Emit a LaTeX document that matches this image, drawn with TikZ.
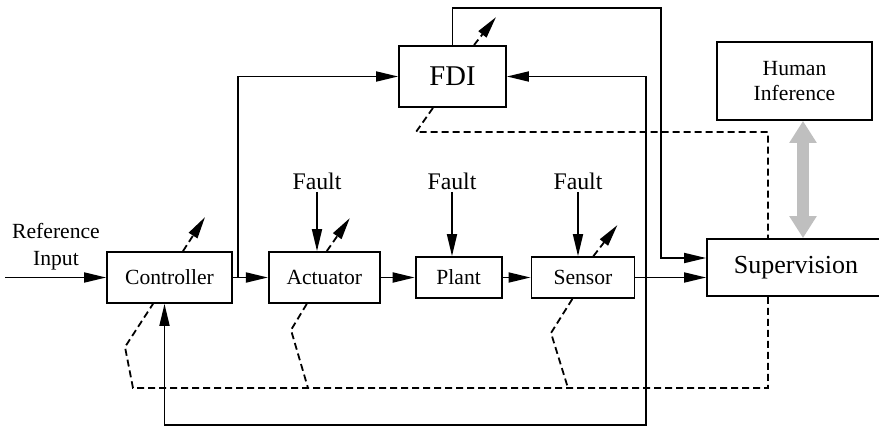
\documentclass[tikz,border=0pt]{standalone}
\usepackage{fontspec}
\setmainfont{Liberation Serif}
\usetikzlibrary{positioning, arrows.meta}

\begin{document}
\begin{tikzpicture}[x=0.5pt, y=-0.5pt, font=\fontsize{10.8}{13}\selectfont]
        \tikzstyle{blk} = [rectangle, draw, line width=0.9pt, fill=white, inner sep=0pt, minimum height=25.5pt]
        \tikzstyle{arrow} = [line width=0.9pt, -{Triangle[length=11pt, width=5pt]}]
        \tikzstyle{dasharrow} = [arrow, dash pattern=on 3.5pt off 2pt]
        \tikzstyle{dashline} = [line width=0.9pt, dash pattern=on 3.5pt off 2pt]
        \tikzstyle{flt} = [inner sep=1pt, font=\fontsize{11.9}{14}\selectfont]
        \tikzstyle{dbl} = [line width=6pt, gray!50, {Triangle[length=11pt, width=13pt]}-{Triangle[length=11pt, width=13pt]}]

        \useasboundingbox (0,0) rectangle (879,429);

        \node [blk, minimum width=62.5pt] (ctrl) at (169.5,277.5) {Controller};
        \node [blk, minimum width=55.5pt, right=17.5pt of ctrl] (act) {Actuator};
        \node [blk, minimum width=43pt, minimum height=20.5pt, right=17pt of act] (plant) {Plant};
        \node [blk, minimum width=51.5pt, minimum height=20.5pt, right=14pt of plant] (sens) {Sensor};
        \node [blk, minimum width=89pt, minimum height=28.5pt, font=\fontsize{13}{15}\selectfont] (sup) at (796,267.5) {Supervision};
        \node [blk, minimum width=53.5pt, minimum height=30.5pt, font=\fontsize{14.3}{16}\selectfont] (fdi) at (452.5,76.5) {FDI};
        \node [blk, minimum width=77.5pt, minimum height=39pt, align=center, font=\fontsize{10.8}{12.5}\selectfont] (hum) at (794.5,81) {Human\\Inference};

        \node [align=center, font=\fontsize{10.8}{13.5}\selectfont] (reflbl) at (56,247) {Reference\\Input};
        \node [flt] (fltact) at (317,181) {Fault};
        \node [flt] (fltplant) at (452,181) {Fault};
        \node [flt] (fltsens) at (578,181) {Fault};

        \coordinate (refin) at (5,277.5);
        \coordinate (br1) at (238,277.5);
        \coordinate (fdiup) at (661,8);
        \coordinate (fb) at (646,277.5);
        \coordinate (fbbot) at (646,425);
        \coordinate (dsup) at (768,132);
        \coordinate (dbot) at (768,388);

        % main chain
        \draw [arrow] (refin) -- (ctrl.west);
        \draw [arrow] (ctrl.east) -- (act.west);
        \draw [arrow] (act.east) -- (plant.west);
        \draw [arrow] (plant.east) -- (sens.west);
        \draw [arrow] (sens.east) -- (sens.east -| sup.west);
        \draw [arrow] (br1) |- (fdi.west);
        \draw [arrow] (fdi.north) |- (fdiup) |- ([yshift=4.75pt]sup.west);
        \draw [arrow] (fb) |- (fdi.east);
        \draw [arrow] (fb) -- (fbbot) -| ([xshift=-2.5pt]ctrl.south);

        % faults
        \draw [arrow] (fltact.south) -- (fltact.south |- act.north);
        \draw [arrow] (fltplant.south) -- (fltplant.south |- plant.north);
        \draw [arrow] (fltsens.south) -- (fltsens.south |- sens.north);

        % adjustments
        \draw [dasharrow] ([xshift=6.75pt]ctrl.north) -- ++(22,-34);
        \draw [dasharrow] ([xshift=1.25pt]act.north) -- ++(23,-33);
        \draw [dasharrow] ([xshift=5.25pt]sens.north) -- ++(24,-31);
        \draw [dasharrow] ([xshift=10.75pt]fdi.north) -- ++(22,-28);

        % supervision links
        \draw [dashline] ([xshift=-9.75pt]fdi.south) -- (416,132) -- (dsup) -- (dsup |- sup.north);
        \draw [dashline] (dbot |- sup.south) -- (dbot) -- (133,388) -- (125,347) -- ([xshift=-8.25pt]ctrl.south);
        \draw [dashline] ([xshift=-8.75pt]act.south) -- (291,330) -- (308,388);
        \draw [dashline] ([xshift=-5.25pt]sens.south) -- (551,333) -- (568,388);

        \draw [dbl] ([xshift=4.25pt]hum.south) -- ([xshift=4.25pt]hum.south |- sup.north);
\end{tikzpicture}
\end{document}
